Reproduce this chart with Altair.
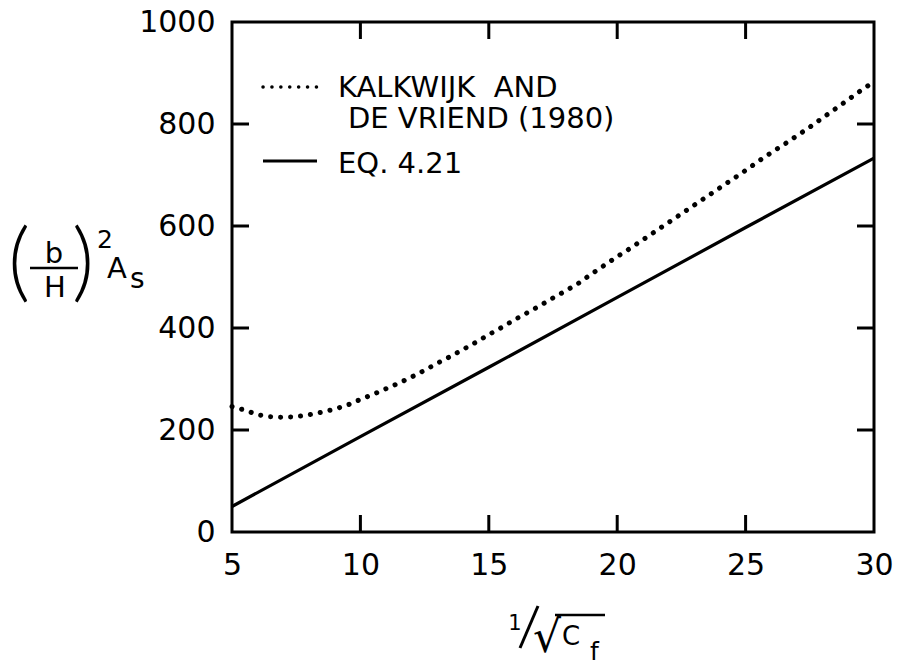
import altair as alt
import pandas as pd

# Eq. 4.21 (solid line)
eq_x = [5, 10, 15, 20, 25, 30]
eq_y = [50, 187, 323, 460, 597, 733]

# Kalkwijk and De Vriend (1980) (dotted curve)
kdv_x = [5.0, 5.5, 6.0, 6.5, 7.0, 7.5, 8.0, 8.5, 9.0, 9.5, 10.0, 10.5, 11.0,
         11.5, 12.0, 12.5, 13.0, 13.5, 14.0, 14.5, 15.0, 15.5, 16.0, 16.5,
         17.0, 17.5, 18.0, 18.5, 19.0, 19.5, 20.0, 20.5, 21.0, 21.5, 22.0,
         22.5, 23.0, 23.5, 24.0, 24.5, 25.0, 25.5, 26.0, 26.5, 27.0, 27.5,
         28.0, 28.5, 29.0, 29.5, 30.0]
kdv_y = [246, 239, 230, 226, 225, 226, 230, 235, 241, 249, 260, 270, 281,
         292, 304, 317, 331, 344, 358, 372, 387, 401, 416, 430,
         444, 459, 473, 488, 506, 523, 540, 556, 573, 590, 607,
         624, 641, 658, 675, 692, 709, 727, 744, 760, 777, 794,
         812, 830, 848, 866, 883]

# Axis ticks
x_ticks = [5, 10, 15, 20, 25, 30]
y_ticks = [0, 200, 400, 600, 800, 1000]
x_inner = [10, 15, 20, 25]
y_inner = [200, 400, 600, 800]

# Legend texts
legend_kdv = ["KALKWIJK\u00a0\u00a0AND", "DE VRIEND (1980)"]
legend_eq = "EQ. 4.21"

W, H = 642, 510
TICK = 17
FONT = "DejaVu Sans"

xs = alt.Scale(domain=[5, 30], nice=False, zero=False)
ys = alt.Scale(domain=[0, 1000], nice=False)
xaxis = alt.Axis(values=x_ticks, title=None, grid=False, domain=False, ticks=False,
                 format="d", labelFont=FONT, labelFontSize=30, labelColor="black",
                 labelPadding=18, labelFlush=False, labelOverlap=False)
yaxis = alt.Axis(values=y_ticks, title=None, grid=False, domain=False, ticks=False,
                 format="d", labelFont=FONT, labelFontSize=30, labelColor="black",
                 labelPadding=17, labelFlush=False, labelOverlap=False)

eq_df = pd.DataFrame({"x": eq_x, "y": eq_y})
kdv_df = pd.DataFrame({"x": kdv_x, "y": kdv_y})
xt_df = pd.DataFrame({"x": x_inner})
yt_df = pd.DataFrame({"y": y_inner})
one = pd.DataFrame({"k": [0]})

eq_line = alt.Chart(eq_df).mark_line(color="black", strokeWidth=3.2).encode(
    x=alt.X("x:Q", scale=xs, axis=xaxis),
    y=alt.Y("y:Q", scale=ys, axis=yaxis),
)

kdv_line = alt.Chart(kdv_df).mark_line(
    color="black", strokeWidth=5, strokeCap="round", strokeDash=[0.1, 9.9]
).encode(
    x=alt.X("x:Q", scale=xs, axis=xaxis),
    y=alt.Y("y:Q", scale=ys, axis=yaxis),
)

# Inward ticks on all four sides of the frame
tick_style = dict(color="black", strokeWidth=3)
bottom_ticks = alt.Chart(xt_df).mark_rule(**tick_style).encode(
    x=alt.X("x:Q", scale=xs, axis=xaxis), y=alt.value(H), y2=alt.value(H - TICK))
top_ticks = alt.Chart(xt_df).mark_rule(**tick_style).encode(
    x=alt.X("x:Q", scale=xs, axis=xaxis), y=alt.value(0), y2=alt.value(TICK))
left_ticks = alt.Chart(yt_df).mark_rule(**tick_style).encode(
    y=alt.Y("y:Q", scale=ys, axis=yaxis), x=alt.value(0), x2=alt.value(TICK))
right_ticks = alt.Chart(yt_df).mark_rule(**tick_style).encode(
    y=alt.Y("y:Q", scale=ys, axis=yaxis), x=alt.value(W), x2=alt.value(W - TICK))


def text(t, x, y, size, align="left", baseline="alphabetic", font=FONT, weight=None):
    kw = dict(text=t, align=align, baseline=baseline, fontSize=size, font=font,
              color="black")
    if weight is not None:
        kw["fontWeight"] = weight
    return alt.Chart(one).mark_text(**kw).encode(x=alt.value(x), y=alt.value(y))


def stroke(x1, y1, x2, y2, w=3, dash=None, cap="butt"):
    kw = dict(color="black", strokeWidth=w, strokeCap=cap)
    if dash:
        kw["strokeDash"] = dash
    return alt.Chart(one).mark_rule(**kw).encode(
        x=alt.value(x1), y=alt.value(y1), x2=alt.value(x2), y2=alt.value(y2))


# Legend
legend = [
    stroke(31, 65, 88, 65, w=3.5, dash=[0.1, 8.8], cap="round"),
    text(legend_kdv[0], 106, 75, 29),
    text(legend_kdv[1], 116, 106, 29),
    stroke(31, 139, 85, 139, w=3),
    text(legend_eq, 106, 151, 29),
]

# y-axis title: (b/H)^2 A_s
ytitle = [
    text("(", -213, 243, 86, align="center", baseline="middle", font="Lato", weight=300),
    text("b", -178, 241, 29, align="center"),
    stroke(-202, 246, -154, 246, w=2.5),
    text("H", -177, 275, 29, align="center"),
    text(")", -149, 243, 86, align="center", baseline="middle", font="Lato", weight=300),
    text("2", -127, 226, 25, align="center"),
    text("A", -125, 256, 29),
    text("s", -102, 266, 28),
]

# x-axis title: 1/sqrt(C_f)
xtitle = [
    text("1", 283, 608, 21, align="center"),
    stroke(288, 626, 306, 584, w=3),
    text("√", 315, 630, 44, align="center"),
    stroke(323, 593, 373, 593, w=2.5),
    text("C", 330, 623, 26),
    text("f", 358, 638, 25),
]

chart = alt.layer(
    eq_line, kdv_line, bottom_ticks, top_ticks, left_ticks, right_ticks,
    *legend, *ytitle, *xtitle
).properties(
    width=W, height=H,
    autosize=alt.AutoSizeParams(type="none"),
    padding={"left": 232, "top": 22, "right": 23, "bottom": 133},
    background="white",
).configure_view(stroke="black", strokeWidth=3)

chart.save("out.html", embed_options={"renderer": "svg", "actions": False})
